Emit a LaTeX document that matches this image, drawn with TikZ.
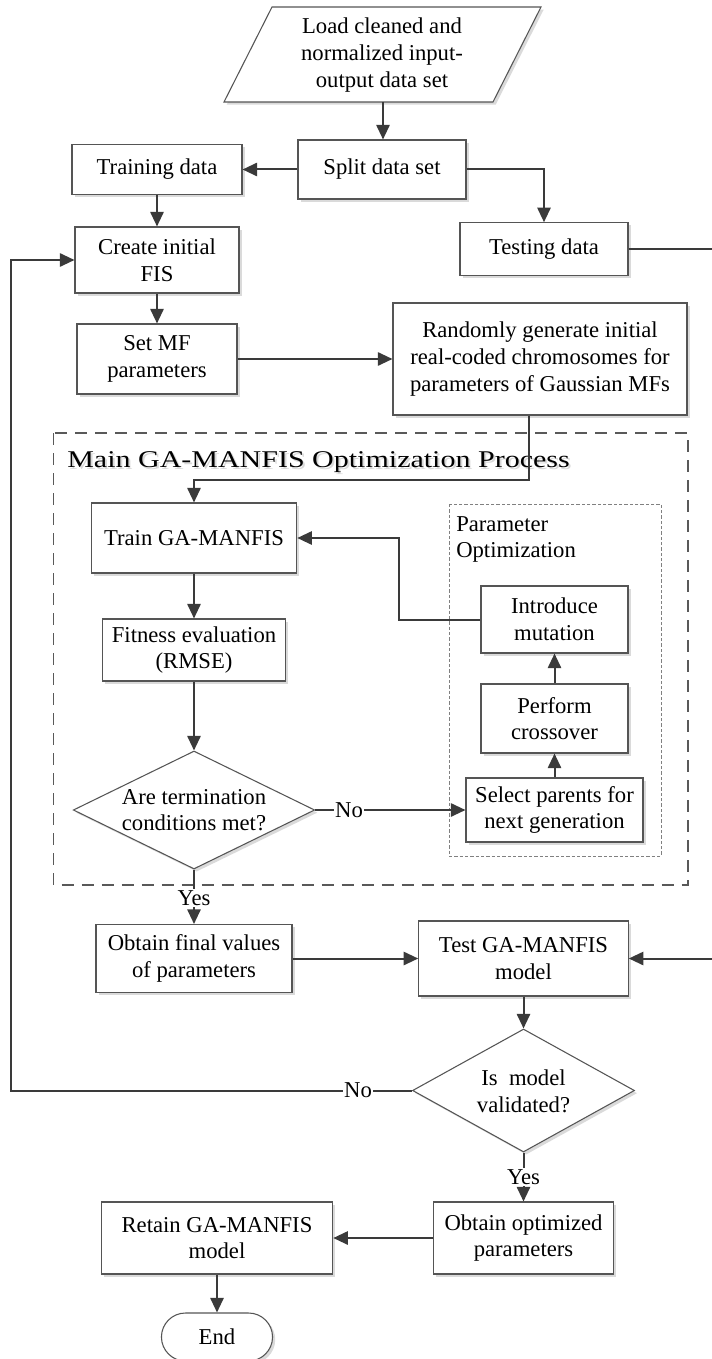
\documentclass[tikz,border=0pt]{standalone}
\usepackage{fontspec}
\setmainfont{Liberation Serif}
\newfontfamily\titlefont{Liberation Serif}[FakeStretch=1.25]
\usetikzlibrary{shapes.geometric,shapes.misc,arrows.meta,shadows}

\definecolor{lineclr}{HTML}{3A3A3A}
\definecolor{boxclr}{HTML}{555555}
\definecolor{shadowclr}{HTML}{DADADA}

\tikzset{
  boxshadow/.style={drop shadow={shadow xshift=2pt, shadow yshift=-2pt, fill=shadowclr, opacity=1}},
  sz/.style 2 args={minimum width=#1*0.75pt, minimum height=#2*0.75pt},
  body/.style={font=\fontsize{17}{20}\selectfont},
  box/.style={draw=boxclr, line width=0.8pt, fill=white, boxshadow, align=center, inner sep=2pt, body},
  txt/.style={align=center, inner sep=0pt, body},
  arr/.style={draw=lineclr, line width=1.5pt, -{Triangle[length=11pt,width=10pt]}},
  lbl/.style={fill=white, inner sep=1pt, body},
}

\begin{document}
\begin{tikzpicture}[x=0.75pt,y=-0.75pt]
\useasboundingbox (0,0) rectangle (711,1359);

% dashed frame of the main optimisation loop
\draw[draw=black!65, line width=1pt, dash pattern=on 9pt off 6pt] (53.5,433) rectangle (688,885);
\node[anchor=base west, inner sep=0pt, text=black!15, font=\titlefont\fontsize{18}{20}\selectfont] (titlesh) at (69,469) {Main GA-MANFIS Optimization Process};
\node[anchor=base west, inner sep=0pt, font=\titlefont\fontsize{18}{20}\selectfont] (title) at (67,467) {Main GA-MANFIS Optimization Process};

% dotted frame of the GA operators
\draw[draw=black!50, line width=0.6pt, dash pattern=on 2.5pt off 1.5pt] (449,504) rectangle (661,856);
\node[anchor=base west, inner sep=0pt, body] (po1) at (456,531) {Parameter};
\node[anchor=base west, inner sep=0pt, body] (po2) at (456,557) {Optimization};

% input data
\draw[draw=boxclr, line width=0.8pt, fill=white, boxshadow] (272,7) -- (541,7) -- (493,102) -- (224,102) -- cycle;
\node[txt] (load) at (382,55) {Load cleaned and\\normalized input-\\output data set};
\coordinate (loadS) at (383,102);

\node[box, sz={168}{59}]   (split)   at (382,169.5) {Split data set};
\node[box, sz={170}{50.5}] (train)   at (157,169.5) {Training data};
\node[box, sz={168}{52.5}] (test)    at (544,249)   {Testing data};
\node[box, sz={164}{66}]   (create)  at (157,260)   {Create initial\\FIS};
\node[box, sz={160}{70}]   (setmf)   at (157,359)   {Set MF\\parameters};
\node[box, sz={294}{112}]  (rand)    at (540,359)   {Randomly generate initial\\real-coded chromosomes for\\parameters of Gaussian MFs};

\node[box, sz={205.5}{70}] (trainga) at (194,538)   {Train GA-MANFIS};
\node[box, sz={183.5}{62}] (fit)     at (194,650)   {Fitness evaluation\\(RMSE)};
\node[diamond, draw=boxclr, line width=0.8pt, fill=white, boxshadow, inner sep=0pt, sz={241.5}{118}] (dia1) at (194,810) {};
\node[txt] (dia1t) at (194,810) {Are termination\\conditions met?};

\node[box, sz={147}{67}]   (mut)     at (554.5,619.5) {Introduce\\mutation};
\node[box, sz={147}{69}]   (perf)    at (554.5,718.5) {Perform\\crossover};
\node[box, sz={177}{64}]   (sel)     at (554.5,810)   {Select parents for\\next generation};

\node[box, sz={196}{68}]   (final)   at (194,958.5)   {Obtain final values\\of parameters};
\node[box, sz={209.5}{75}] (testga)  at (523.5,958.5) {Test GA-MANFIS\\model};
\node[diamond, draw=boxclr, line width=0.8pt, fill=white, boxshadow, inner sep=0pt, sz={222}{123}] (dia2) at (523.5,1090.5) {};
\node[txt] (dia2t) at (523.5,1091) {Is~ model\\validated?};

\node[box, sz={179.5}{72}] (opt)     at (523.5,1238) {Obtain optimized\\parameters};
\node[box, sz={231.5}{72}] (retain)  at (217,1238)   {Retain GA-MANFIS\\model};
\node[rounded rectangle, draw=boxclr, line width=0.8pt, fill=white, boxshadow, body, sz={120}{48}] (end) at (217,1337) {End};

% connectors
\coordinate (edgeR) at (713,0);
\coordinate (edgeL) at (11,0);
\coordinate (j1) at (529,480);
\coordinate (j2) at (399,0);

\draw[arr] (loadS) -- (loadS |- split.north);
\draw[arr] (split.west) -- (split.west -| train.east);
\draw[arr] (split.east) -| (test.north);
\draw[arr] (test.east) -- (test.east -| edgeR) |- (testga.east);
\draw[arr] (train.south) -- (create.north);
\draw[arr] (create.south) -- (setmf.north);
\draw[arr] (setmf.east) -- (rand.west);
\draw[arr] (rand.south -| j1) -- (j1) -| (trainga.north);
\draw[arr] (trainga.south) -- (fit.north);
\draw[arr] (fit.south) -- (dia1.north);
\draw[arr] (dia1.east) -- (sel.west);
\node[lbl] (no1) at (349,810) {No};
\draw[arr] (sel.north) -- (perf.south);
\draw[arr] (perf.north) -- (mut.south);
\draw[arr] (mut.west) -- (mut.west -| j2) -- (trainga.east -| j2) -- (trainga.east);
\draw[arr] (dia1.south) -- (final.north);
\node[lbl] (yes1) at (194,898) {Yes};
\draw[arr] (final.east) -- (testga.west);
\draw[arr] (testga.south) -- (dia2.north);
\draw[arr] (dia2.west) -- (dia2.west -| edgeL) |- (create.west);
\node[lbl] (no2) at (358,1090.5) {No};
\draw[arr] (dia2.south) -- (opt.north);
\node[lbl] (yes2) at (523.5,1177) {Yes};
\draw[arr] (opt.west) -- (retain.east);
\draw[arr] (retain.south) -- (end.north);
\end{tikzpicture}
\end{document}
